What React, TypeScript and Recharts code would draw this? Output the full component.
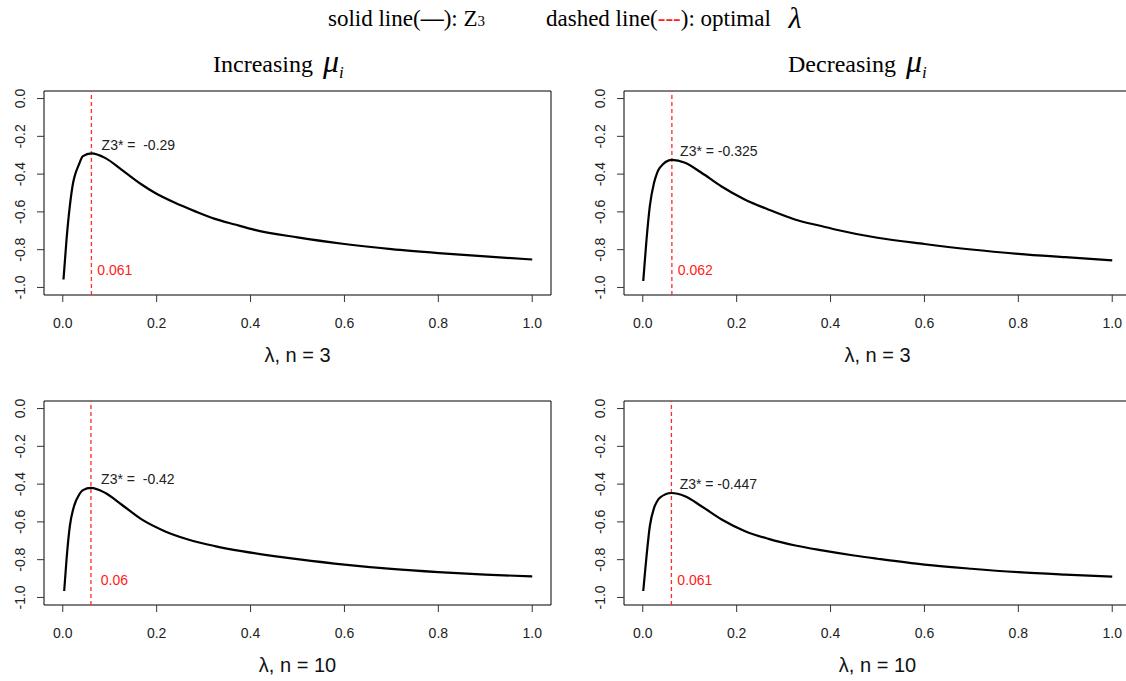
import React from "react";
import {
  LineChart,
  Line,
  XAxis,
  YAxis,
  ReferenceArea,
  ReferenceLine,
  ReferenceDot,
} from "recharts";

const sans = "'Liberation Sans', Arial, sans-serif";
const serif = "'Liberation Serif', 'Times New Roman', serif";

const xTicks = [0, 0.2, 0.4, 0.6, 0.8, 1.0];
const yTicks = [0, -0.2, -0.4, -0.6, -0.8, -1.0];

// increasing mu, n = 3
const incN3Lambda = [0.0015, 0.008, 0.015, 0.022, 0.0275, 0.033, 0.043, 0.061, 0.09, 0.125, 0.168, 0.196, 0.239, 0.281, 0.324, 0.367, 0.409, 0.5, 0.6, 0.7, 0.8, 0.9, 1.0];
const incN3Z = [-0.958, -0.746, -0.57, -0.446, -0.393, -0.358, -0.305, -0.29, -0.314, -0.376, -0.455, -0.499, -0.552, -0.596, -0.637, -0.667, -0.695, -0.735, -0.77, -0.797, -0.818, -0.836, -0.852];

// decreasing mu, n = 3
const decN3Lambda = [0.001, 0.008, 0.015, 0.024, 0.03, 0.036, 0.062, 0.09, 0.125, 0.167, 0.217, 0.267, 0.324, 0.38, 0.41, 0.5, 0.6, 0.7, 0.8, 0.9, 1.0];
const decN3Z = [-0.966, -0.746, -0.57, -0.446, -0.397, -0.367, -0.325, -0.34, -0.393, -0.464, -0.534, -0.587, -0.64, -0.675, -0.693, -0.737, -0.77, -0.799, -0.822, -0.84, -0.857];

// increasing mu, n = 10
const incN10Lambda = [0.003, 0.008, 0.015, 0.022, 0.0275, 0.033, 0.043, 0.06, 0.09, 0.125, 0.168, 0.217, 0.267, 0.324, 0.381, 0.45, 0.5, 0.6, 0.7, 0.8, 0.9, 1.0];
const incN10Z = [-0.966, -0.799, -0.623, -0.534, -0.492, -0.464, -0.432, -0.42, -0.446, -0.508, -0.587, -0.649, -0.693, -0.728, -0.755, -0.781, -0.797, -0.826, -0.849, -0.866, -0.879, -0.889];

// decreasing mu, n = 10
const decN10Lambda = [0.001, 0.008, 0.015, 0.024, 0.03, 0.036, 0.061, 0.09, 0.125, 0.168, 0.218, 0.268, 0.325, 0.382, 0.45, 0.5, 0.6, 0.7, 0.8, 0.9, 1.0];
const decN10Z = [-0.966, -0.781, -0.623, -0.526, -0.493, -0.473, -0.447, -0.464, -0.517, -0.587, -0.649, -0.69, -0.725, -0.751, -0.778, -0.795, -0.826, -0.848, -0.866, -0.879, -0.89];

const optLambda = [0.061, 0.062, 0.06, 0.061];
const optZ = [-0.29, -0.325, -0.42, -0.447];
const zLabels = ["Z3* =  -0.29", "Z3* = -0.325", "Z3* =  -0.42", "Z3* = -0.447"];
const optLabels = ["0.061", "0.062", "0.06", "0.061"];
const xTitles = ["λ, n = 3", "λ, n = 3", "λ, n = 10", "λ, n = 10"];

const fmt = (v: number) => v.toFixed(1);

const YTick = (props: any) => {
  const { x, y, payload } = props;
  return (
    <text
      x={x}
      y={y}
      transform={`rotate(-90 ${x} ${y})`}
      textAnchor="middle"
      fontSize={14}
      fill="#222"
      fontFamily={sans}
    >
      {fmt(payload.value)}
    </text>
  );
};

const textShape = (label: string, color: string) => (p: any) => (
  <text
    x={p.cx}
    y={p.cy}
    textAnchor="middle"
    dominantBaseline="central"
    fontSize={14}
    fill={color}
    fontFamily={sans}
    style={{ whiteSpace: "pre" }}
  >
    {label}
  </text>
);

function Panel({ idx, left, top, lambda, z }: { idx: number; left: number; top: number; lambda: number[]; z: number[] }) {
  const data = lambda.map((l, i) => ({ lambda: l, z: z[i] }));
  const opt = optLambda[idx];
  return (
    <div style={{ position: "absolute", left, top }}>
      <LineChart width={560} height={300} data={data} margin={{ top: 11, right: 9, bottom: 0, left: 0 }}>
        <XAxis
          type="number"
          dataKey="lambda"
          domain={[-0.04, 1.04]}
          ticks={xTicks}
          tickFormatter={fmt}
          axisLine={false}
          tickSize={7}
          tickMargin={16}
          tickLine={{ stroke: "#333" }}
          tick={{ fontSize: 14, fill: "#222", fontFamily: sans }}
          height={85}
          allowDataOverflow
          label={{ value: xTitles[idx], position: "insideBottom", offset: 18, fontSize: 20, fill: "#111", fontFamily: sans }}
        />
        <YAxis
          type="number"
          domain={[-1.04, 0.04]}
          ticks={yTicks}
          width={44}
          axisLine={false}
          tickSize={7}
          tickMargin={12}
          tickLine={{ stroke: "#333" }}
          tick={<YTick />}
          allowDataOverflow
        />
        <ReferenceArea x1={-0.04} x2={1.04} y1={-1.04} y2={0.04} fill="none" stroke="#000" strokeWidth={1} ifOverflow="visible" />
        <ReferenceLine x={opt} stroke="#ff2a2a" strokeOpacity={1} strokeDasharray="4 3" strokeWidth={1.3} />
        <Line type="monotone" dataKey="z" stroke="#000" strokeWidth={2.2} dot={false} isAnimationActive={false} />
        <ReferenceDot x={opt + 0.1} y={optZ[idx] + 0.045} r={0} ifOverflow="visible" shape={textShape(zLabels[idx], "#222")} />
        <ReferenceDot x={opt + 0.05} y={-0.905} r={0} ifOverflow="visible" shape={textShape(optLabels[idx], "#ff1a1a")} />
      </LineChart>
    </div>
  );
}

export default function App() {
  return (
    <div style={{ position: "absolute", left: 0, top: 0, width: 1126, height: 681, overflow: "hidden", background: "#fff" }}>
      <svg width={1126} height={100} style={{ position: "absolute", left: 0, top: 0, overflow: "visible" }}>
        <text x={328} y={26} fontFamily={serif} fontSize={23} fill="#000">
          solid line(<tspan fontWeight="bold">—</tspan>): Z<tspan fontSize={15}>3</tspan>
        </text>
        <text x={546} y={26} fontFamily={serif} fontSize={23} fill="#000">
          dashed line(<tspan fill="#ff1a1a">---</tspan>): optimal <tspan dx={12} dy={2} fontSize={30} fontStyle="italic">λ</tspan>
        </text>
        <text x={213} y={72} fontFamily={serif} fontSize={24} fill="#000">
          Increasing<tspan dx={10} fontSize={32} fontStyle="italic">μ</tspan>
          <tspan fontSize={17} fontStyle="italic" dy={6}>i</tspan>
        </text>
        <text x={788} y={72} fontFamily={serif} fontSize={24} fill="#000">
          Decreasing<tspan dx={10} fontSize={32} fontStyle="italic">μ</tspan>
          <tspan fontSize={17} fontStyle="italic" dy={6}>i</tspan>
        </text>
      </svg>
      <Panel idx={0} left={0} top={80} lambda={incN3Lambda} z={incN3Z} />
      <Panel idx={1} left={580} top={80} lambda={decN3Lambda} z={decN3Z} />
      <Panel idx={2} left={0} top={390} lambda={incN10Lambda} z={incN10Z} />
      <Panel idx={3} left={580} top={390} lambda={decN10Lambda} z={decN10Z} />
    </div>
  );
}
